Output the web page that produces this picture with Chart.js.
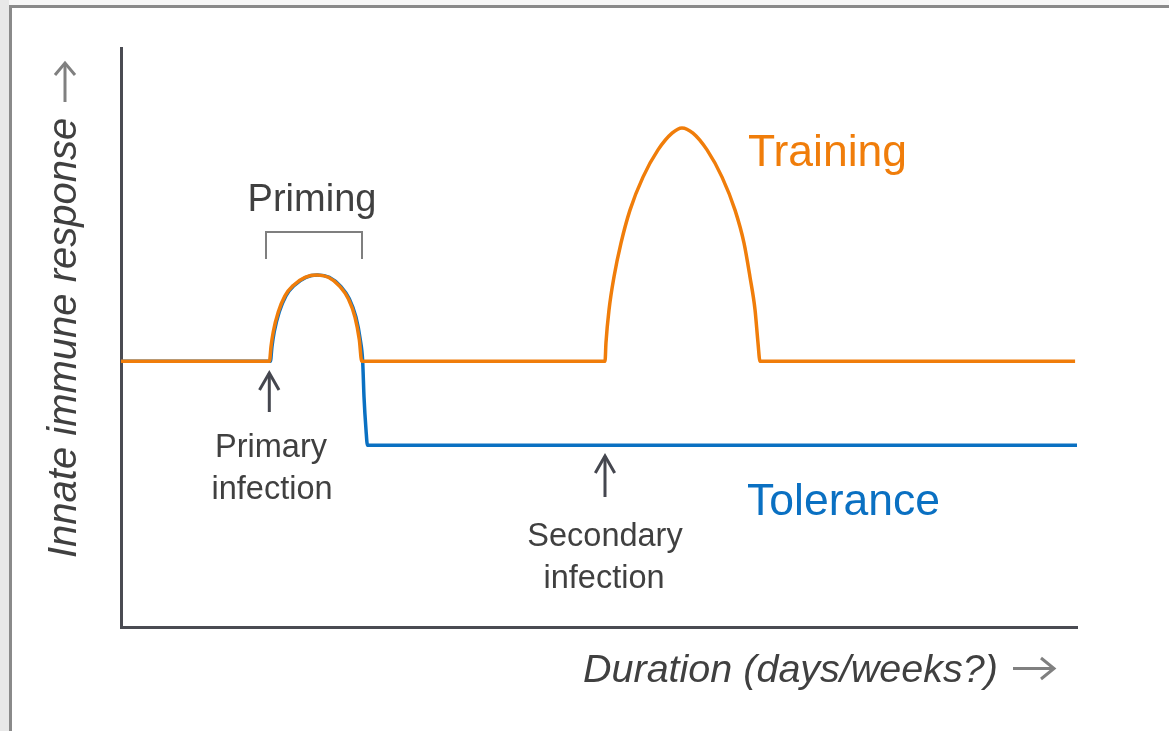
<!DOCTYPE html>
<html><head><meta charset="utf-8">
<script src="https://cdn.jsdelivr.net/npm/chart.js@4.4.1/dist/chart.umd.min.js"></script>
<style>
html,body{margin:0;padding:0;width:1169px;height:731px;overflow:hidden;background:#f7f7f7;}
#strip{position:absolute;left:0;top:0;width:9px;height:731px;background:#e8e8e8;}
#frame{position:absolute;left:9px;top:5px;width:1160px;height:726px;border-top:3px solid #8a8a8a;border-left:3px solid #8a8a8a;background:#fff;box-sizing:border-box;}
#c{position:absolute;left:0;top:0;}
</style></head><body>
<div id="strip"></div><div id="frame"></div>
<canvas id="c" width="1169" height="731"></canvas>
<script>
// Duration (0-100 arbitrary units) and innate immune response (0-100 arbitrary units)
const trainingX = [0, 15.53, 15.69, 15.93, 16.45, 17.15, 18.02, 19.25, 20.48, 21.69, 22.91, 23.78, 24.48, 24.93, 25.18,
  50.63, 50.73, 51.05, 51.57, 52.3, 53.24, 54.6, 56.17, 57.64, 58.68,
  59.83, 61.3, 62.87, 64.23, 65.17, 65.79, 66.32, 66.63, 66.84, 99.8];
const trainingY = [45.9, 45.9, 48.4, 51.0, 54.4, 57.2, 59.0, 60.4, 60.8, 60.4, 58.8, 56.7, 53.5, 49.6, 45.9,
  45.9, 49.1, 54.8, 60.5, 66.3, 72.0, 77.7, 82.4, 85.3, 86.2,
  85.3, 82.4, 77.7, 72.0, 66.3, 60.5, 54.8, 49.1, 45.9, 45.9];
const toleranceX = [0, 15.63, 15.79, 16.03, 16.55, 17.25, 18.12, 19.35, 20.58, 21.79, 23.01, 23.88, 24.58, 25.03, 25.28,
  25.42, 25.63, 25.78, 100];
const toleranceY = [45.9, 45.9, 48.4, 51.0, 54.4, 57.2, 59.0, 60.4, 60.8, 60.4, 58.8, 56.7, 53.5, 49.6, 45.9,
  39.7, 34.0, 31.4, 31.4];
const seriesNames = ['Training', 'Tolerance'];
const xTitle = 'Duration (days/weeks?)';
const yTitle = 'Innate immune response';

const ORANGE = '#F07D0A', BLUE = '#0A70C2', DARK = '#404040', ARROW = '#45474f', GREY = '#808080';
const toPts = (xs, ys) => xs.map((x, i) => ({x: x, y: ys[i]}));

function line(ctx, pts, color, lw) {
  ctx.save(); ctx.strokeStyle = color; ctx.lineWidth = lw; ctx.lineCap = 'butt'; ctx.lineJoin = 'miter';
  ctx.beginPath(); ctx.moveTo(pts[0][0], pts[0][1]);
  for (let i = 1; i < pts.length; i++) ctx.lineTo(pts[i][0], pts[i][1]);
  ctx.stroke(); ctx.restore();
}
function text(ctx, s, x, y, font, color, align) {
  ctx.save(); ctx.font = font; ctx.fillStyle = color; ctx.textAlign = align || 'center'; ctx.textBaseline = 'alphabetic';
  ctx.fillText(s, x, y); ctx.restore();
}

const annotations = {
  id: 'annotations',
  afterDatasetsDraw(chart) {
    const ctx = chart.ctx;
    const F = "'Liberation Sans', Arial, sans-serif";
    // Priming bracket
    text(ctx, 'Priming', 312, 211, '38px ' + F, DARK);
    line(ctx, [[266, 259], [266, 232], [362, 232], [362, 259]], '#7f7f7f', 2);
    // Primary infection
    line(ctx, [[269.3, 412], [269.3, 373]], ARROW, 3);
    line(ctx, [[259.5, 390], [269.3, 373], [279, 390]], ARROW, 3);
    text(ctx, 'Primary', 271, 457, '32.5px ' + F, DARK);
    text(ctx, 'infection', 272, 499, '32.5px ' + F, DARK);
    // Secondary infection
    line(ctx, [[605, 497], [605, 456]], ARROW, 3);
    line(ctx, [[595.3, 473], [605, 456], [614.7, 473]], ARROW, 3);
    text(ctx, 'Secondary', 605, 546, '32.5px ' + F, DARK);
    text(ctx, 'infection', 604, 588, '32.5px ' + F, DARK);
    // Series labels
    text(ctx, seriesNames[0], 748, 166, '44.5px ' + F, ORANGE, 'left');
    text(ctx, seriesNames[1], 747, 515, '44.5px ' + F, BLUE, 'left');
    // X axis title
    text(ctx, xTitle, 583, 682, 'italic 39.5px ' + F, DARK, 'left');
    line(ctx, [[1013, 668.5], [1054, 668.5]], GREY, 3);
    line(ctx, [[1041, 658], [1054, 668.5], [1041, 679]], GREY, 3);
    // Y axis title
    ctx.save(); ctx.translate(76, 558); ctx.rotate(-Math.PI / 2);
    text(ctx, yTitle, 0, 0, 'italic 40px ' + F, DARK, 'left');
    ctx.restore();
    line(ctx, [[65, 102], [65, 63]], GREY, 3);
    line(ctx, [[55, 75], [65, 63], [75, 75]], GREY, 3);
  }
};

new Chart(document.getElementById('c'), {
  type: 'line',
  data: {
    datasets: [
      {label: seriesNames[0], data: toPts(trainingX, trainingY), borderColor: ORANGE, borderWidth: 3.5,
       pointRadius: 0, cubicInterpolationMode: 'monotone', fill: false},
      {label: seriesNames[1], data: toPts(toleranceX, toleranceY), borderColor: BLUE, borderWidth: 3.5,
       pointRadius: 0, cubicInterpolationMode: 'monotone', fill: false}
    ]
  },
  options: {
    responsive: false, animation: false, devicePixelRatio: 1,
    layout: {padding: {left: 121, top: 48, right: 92, bottom: 104}},
    plugins: {legend: {display: false}, tooltip: {enabled: false}},
    scales: {
      x: {type: 'linear', min: 0, max: 100, ticks: {display: false},
          grid: {display: false, drawTicks: false}, border: {display: true, color: '#4a4b52', width: 3},
          afterFit: s => { s.height = 0; }},
      y: {type: 'linear', min: 0, max: 100, ticks: {display: false},
          grid: {display: false, drawTicks: false}, border: {display: true, color: '#4a4b52', width: 3},
          afterFit: s => { s.width = 0; }}
    }
  },
  plugins: [annotations]
});
</script>
</body></html>
